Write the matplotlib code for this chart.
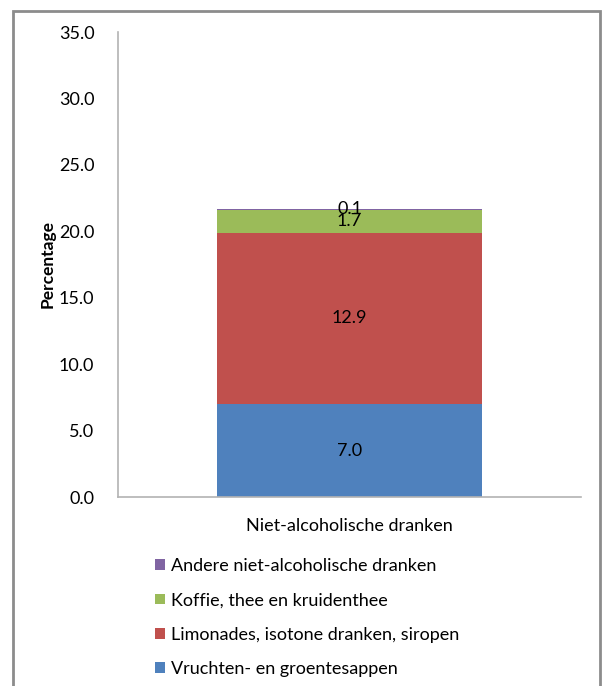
import matplotlib
matplotlib.use("Agg")
import matplotlib.pyplot as plt
from matplotlib.patches import Rectangle, Patch

plt.rcParams["font.family"] = ["Lato", "DejaVu Sans"]

category = ["Niet-alcoholische dranken"]
series_names = [
    "Vruchten- en groentesappen",
    "Limonades, isotone dranken, siropen",
    "Koffie, thee en kruidenthee",
    "Andere niet-alcoholische dranken",
]
series_values = [7.0, 12.9, 1.7, 0.1]
colors = ["#4F81BD", "#C0504D", "#9BBB59", "#8064A2"]
yticks = [0, 5, 10, 15, 20, 25, 30, 35]

fig = plt.figure(figsize=(6.03, 6.86), dpi=100)
ax = fig.add_axes([118 / 603, 1 - 497 / 686, 463 / 603, 465 / 686])

bottom = 0.0
for name, val, col in zip(series_names, series_values, colors):
    ax.bar(0, val, width=0.572, bottom=bottom, color=col, label=name)
    ax.text(0, bottom + val / 2, f"{val:.1f}", ha="center", va="center",
            fontsize=13, color="black")
    bottom += val

ax.set_xlim(-0.5, 0.5)
ax.set_ylim(0, 35)
ax.set_yticks(yticks)
ax.set_yticklabels([f"{t:.1f}" for t in yticks], fontsize=13)
ax.set_xticks([0])
ax.set_xticklabels(category, fontsize=13)
ax.tick_params(axis="y", length=0, pad=17)
ax.tick_params(axis="x", length=0, pad=15)
for s in ["top", "right"]:
    ax.spines[s].set_visible(False)
for s in ["left", "bottom"]:
    ax.spines[s].set_color("#b3b3b3")
    ax.spines[s].set_linewidth(1.2)
ax.set_ylabel("Percentage", fontsize=12.5, fontweight="bold", labelpad=2)

handles = [Patch(facecolor=c) for c in colors][::-1]
fig.legend(handles, series_names[::-1], loc="upper left",
           bbox_to_anchor=(146 / 603, 1 - 549 / 686), frameon=False,
           fontsize=13, handlelength=0.55, handleheight=0.55,
           handletextpad=0.35, labelspacing=1.02, borderpad=0)

# outer frame of the chart area
frame = Rectangle((13 / 603, -0.05), (600 - 13) / 603, 1.05 - 11 / 686,
                  transform=fig.transFigure, fill=False,
                  edgecolor="#8c8c8c", linewidth=2)
fig.patches.append(frame)

fig.savefig("out.png", dpi=100)
